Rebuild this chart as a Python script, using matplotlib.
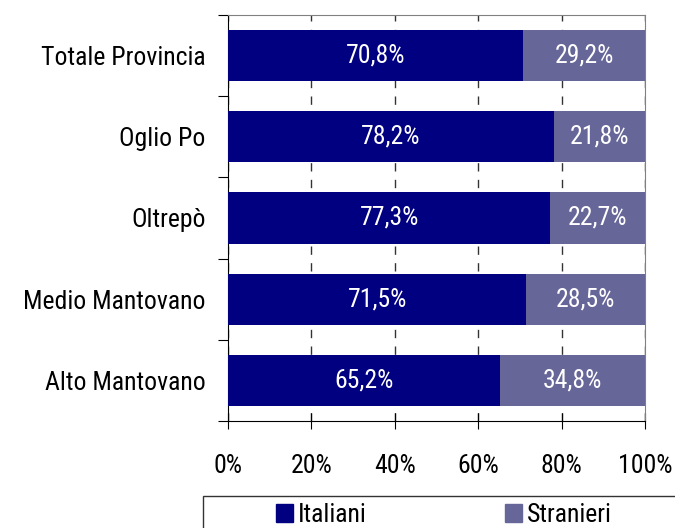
import numpy as np
import matplotlib.pyplot as plt
from matplotlib.patches import Patch, Rectangle

plt.rcParams['font.family'] = ['Roboto Condensed', 'Archivo Narrow', 'Liberation Sans', 'DejaVu Sans']

# Data
areas = ['Totale Provincia', 'Oglio Po', 'Oltrepò', 'Medio Mantovano', 'Alto Mantovano']
italiani = [70.8, 78.2, 77.3, 71.5, 65.2]
stranieri = [29.2, 21.8, 22.7, 28.5, 34.8]
xticks = [0, 20, 40, 60, 80, 100]

c_ita = '#000080'
c_str = '#666699'
fs = 18.5

fig = plt.figure(figsize=(6.75, 5.28), dpi=100)
ax = fig.add_axes([228/675, 1 - 421/528, (645-228)/675, (421-15)/528])

y = np.arange(len(areas))
ax.barh(y, italiani, height=0.63, color=c_ita, zorder=3)
ax.barh(y, stranieri, left=italiani, height=0.63, color=c_str, zorder=3)

for i in range(len(areas)):
    ax.text(italiani[i] / 2, y[i], ('%.1f%%' % italiani[i]).replace('.', ','),
            color='white', ha='center', va='center', fontsize=fs, zorder=4)
    ax.text(italiani[i] + stranieri[i] / 2, y[i], ('%.1f%%' % stranieri[i]).replace('.', ','),
            color='white', ha='center', va='center', fontsize=fs, zorder=4)

ax.set_xlim(0, 100)
ax.set_ylim(len(areas) - 0.5, -0.5)
ax.set_xticks(xticks)
ax.set_xticklabels(['%d%%' % t for t in xticks], fontsize=fs)
ax.set_yticks(np.arange(len(areas) + 1) - 0.5)
ax.set_yticklabels([])
ax.set_yticks(y, minor=True)
ax.set_yticklabels(areas, minor=True, fontsize=fs)
ax.tick_params(axis='y', which='minor', length=0, pad=16)
ax.tick_params(axis='y', which='major', length=7, direction='out', color='black')
ax.tick_params(axis='x', length=12, direction='inout', pad=18, color='black')

ax.grid(axis='x', color='#333333', linestyle=(0, (6, 6)), linewidth=1, zorder=1)
for s in ['top', 'right']:
    ax.spines[s].set_color('#808080')

# legend box, cut by the bottom edge like the original
fig.patches.append(Rectangle((203/675, -0.1), 0.8, 1 - 496/528 + 0.1, transform=fig.transFigure,
                             fill=False, edgecolor='#333333', linewidth=1))
for col, lab, x0 in [(c_ita, 'Italiani', 276), (c_str, 'Stranieri', 505)]:
    fig.legend(handles=[Patch(color=col, label=lab)], loc='upper left',
               bbox_to_anchor=(x0/675, 1 - 503/528), fontsize=fs, frameon=False,
               handlelength=0.66, handleheight=0.66, borderpad=0, borderaxespad=0,
               handletextpad=0.2)

fig.savefig('out.png', dpi=100)
